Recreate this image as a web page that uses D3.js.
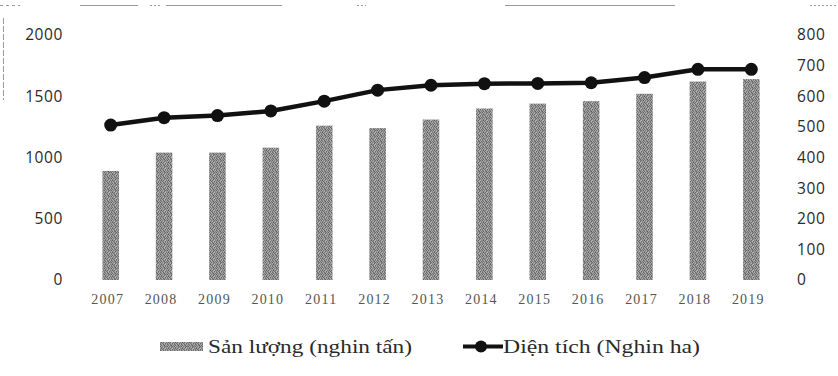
<!DOCTYPE html>
<html>
<head>
<meta charset="utf-8">
<script src="https://cdn.jsdelivr.net/npm/d3@7"></script>
<style>
  html, body { margin: 0; padding: 0; background: #fff; }
  svg { display: block; }
</style>
</head>
<body>
<svg id="chart" width="838" height="376"></svg>
<script>
// Years on the category axis
const years = ["2007","2008","2009","2010","2011","2012","2013","2014","2015","2016","2017","2018","2019"];
// Output (thousand tonnes) – bars, left axis
const sanLuong = [890, 1040, 1040, 1080, 1260, 1240, 1310, 1400, 1440, 1460, 1520, 1620, 1640];
// Area (thousand ha) – line with markers, right axis
const dienTich = [506, 530, 537, 552, 584, 620, 636, 641, 642, 644, 661, 688, 688];
// Axis ticks
const leftTicks = [0, 500, 1000, 1500, 2000];
const rightTicks = [0, 100, 200, 300, 400, 500, 600, 700, 800];
// Legend labels
const legendBar = "Sản lượng (nghin tấn)";
const legendLine = "Diện tích (Nghin ha)";

const svg = d3.select("#chart");

// Grainy grey fill for the bars: an irregular 7x6 tile of grey pixels
const defs = svg.append("defs");
const grainCells = [
  "5c9b6ea3b87d95",
  "a8728fb4649e7a",
  "8cb0669a85b16c",
  "6fa08a5ea9789c",
  "b27c9f83709a60",
  "7996b1689e8aa6"
];
const tileW = grainCells[0].length / 2, tileH = grainCells.length;
const pat = defs.append("pattern")
  .attr("id", "grain").attr("patternUnits", "userSpaceOnUse")
  .attr("width", tileW).attr("height", tileH);
grainCells.forEach((row, j) => {
  for (let i = 0; i < tileW; i++) {
    const g = row.substr(i * 2, 2);
    pat.append("rect").attr("x", i).attr("y", j).attr("width", 1).attr("height", 1)
      .attr("fill", "#" + g + g + g).attr("shape-rendering", "crispEdges");
  }
});

const x = d3.scaleBand().domain(years).range([84, 778]).paddingInner(0.69).paddingOuter(0.345);
const yL = d3.scaleLinear().domain([0, 2000]).range([280, 35]);
const yR = d3.scaleLinear().domain([0, 800]).range([280, 35]);

// Faint frame remnants along the top and left edge
const frame = svg.append("g").attr("stroke", "#9a9a9a").attr("stroke-width", 1).attr("fill", "none");
[[0, 20, "3,3"], [80, 138, null], [150, 160, "2,2"], [166, 282, null], [357, 366, "2,2"],
 [505, 675, null], [810, 836, "2,2"]].forEach(([a, b, dash]) => {
  frame.append("line").attr("x1", a).attr("x2", b).attr("y1", 5.5).attr("y2", 5.5)
    .attr("stroke-dasharray", dash);
});
frame.append("line").attr("x1", 3.5).attr("x2", 3.5).attr("y1", 18).attr("y2", 100)
  .attr("stroke-dasharray", "6,2");

// Bars
svg.append("g").selectAll("rect").data(years).join("rect")
  .attr("x", d => x(d))
  .attr("width", x.bandwidth())
  .attr("y", (d, i) => yL(sanLuong[i]))
  .attr("height", (d, i) => yL(0) - yL(sanLuong[i]))
  .attr("fill", "url(#grain)");

// Line + markers
const cx = d => x(d) + x.bandwidth() / 2;
const line = d3.line().x((d, i) => cx(years[i])).y(d => yR(d));
svg.append("path").datum(dienTich)
  .attr("d", line).attr("fill", "none")
  .attr("stroke", "#111").attr("stroke-width", 4.5).attr("stroke-linejoin", "round");
svg.append("g").selectAll("circle").data(dienTich).join("circle")
  .attr("cx", (d, i) => cx(years[i])).attr("cy", d => yR(d)).attr("r", 6.5)
  .attr("fill", "#111");

// Left axis
const axL = svg.append("g").attr("transform", "translate(63,0)")
  .call(d3.axisLeft(yL).tickValues(leftTicks).tickFormat(d3.format("d")).tickSize(0).tickPadding(0));
axL.select(".domain").remove();
axL.selectAll("text").attr("font-family", "'Open Sans', sans-serif").attr("font-size", 15.5)
  .attr("letter-spacing", "0.6px").attr("fill", "#2a2a2a");

// Right axis
const axR = svg.append("g").attr("transform", "translate(797,0)")
  .call(d3.axisRight(yR).tickValues(rightTicks).tickFormat(d3.format("d")).tickSize(0).tickPadding(0));
axR.select(".domain").remove();
axR.selectAll("text").attr("font-family", "'Open Sans', sans-serif").attr("font-size", 15.5)
  .attr("letter-spacing", "0.6px").attr("fill", "#2a2a2a");

// Category axis
const axX = svg.append("g").attr("transform", "translate(-3,294)")
  .call(d3.axisBottom(x).tickSize(0).tickPadding(0));
axX.select(".domain").remove();
axX.selectAll("text").attr("font-family", "'Liberation Serif', serif").attr("font-size", 14)
  .attr("letter-spacing", "1.2px").attr("fill", "#555");

// Legend
const lg = svg.append("g").attr("font-family", "'Liberation Serif', serif").attr("font-size", 19).attr("fill", "#2a2a2a");
lg.append("rect").attr("x", 160).attr("y", 342).attr("width", 43).attr("height", 9).attr("fill", "url(#grain)");
lg.append("text").attr("x", 208).attr("y", 353).attr("textLength", 204).attr("lengthAdjust", "spacingAndGlyphs").text(legendBar);
lg.append("line").attr("x1", 463).attr("x2", 503).attr("y1", 346.5).attr("y2", 346.5)
  .attr("stroke", "#111").attr("stroke-width", 4);
lg.append("circle").attr("cx", 481).attr("cy", 346.5).attr("r", 6).attr("fill", "#111");
lg.append("text").attr("x", 503).attr("y", 353).attr("textLength", 197).attr("lengthAdjust", "spacingAndGlyphs").text(legendLine);
</script>
</body>
</html>
